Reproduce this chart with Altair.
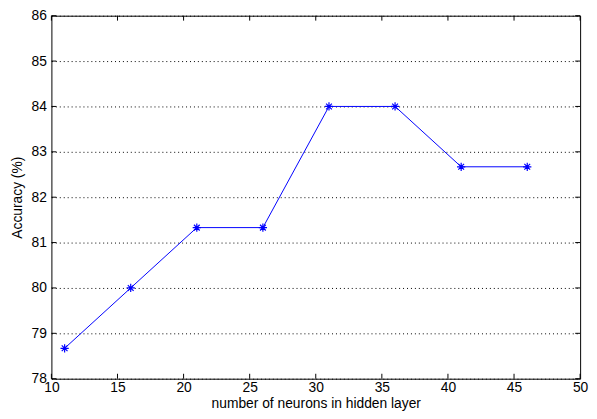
import altair as alt
import pandas as pd

neurons = [11, 16, 21, 26, 31, 36, 41, 46]
accuracy = [78.67, 80.0, 81.33, 81.33, 84.0, 84.0, 82.67, 82.67]
x_ticks = [10, 15, 20, 25, 30, 35, 40, 45, 50]
y_ticks = [78, 79, 80, 81, 82, 83, 84, 85, 86]

W, H = 536, 368
TL = 5
FONT = "Liberation Sans"
FS = 14

df = pd.DataFrame({"n": neurons, "acc": accuracy})
xt = pd.DataFrame({"n": x_ticks})
yt = pd.DataFrame({"acc": y_ticks})

xs = alt.Scale(domain=[10, 50], nice=False, zero=False)
ys = alt.Scale(domain=[78, 86], nice=False, zero=False)

xaxis = alt.Axis(values=x_ticks, ticks=False, grid=False, domain=False,
                 labelFont=FONT, labelFontSize=FS, labelColor="black", labelPadding=2,
                 title="number of neurons in hidden layer", titleFont=FONT,
                 titleFontSize=FS, titleFontWeight="normal", titleColor="black",
                 titlePadding=2, labelFlush=False)
yaxis = alt.Axis(values=y_ticks, ticks=False, grid=True, gridDash=[1, 3],
                 gridColor="black", gridOpacity=1, gridWidth=1, domain=False,
                 labelFont=FONT, labelFontSize=FS, labelColor="black", labelPadding=5,
                 title="Accuracy (%)", titleFont=FONT, titleFontSize=FS,
                 titleFontWeight="normal", titleColor="black", titlePadding=7,
                 labelFlush=False)

X = alt.X("n:Q", scale=xs, axis=xaxis)
Y = alt.Y("acc:Q", scale=ys, axis=yaxis)

line = alt.Chart(df).mark_line(color="#0000ff", strokeWidth=1).encode(x=X, y=Y)

star = "M-1,0L1,0M0,-1L0,1M-0.7,-0.7L0.7,0.7M-0.7,0.7L0.7,-0.7"
pts = alt.Chart(df).mark_point(shape=star, filled=False, color="#0000ff",
                               strokeWidth=1.2, size=70, opacity=1).encode(x=X, y=Y)

xb = alt.Chart(xt).mark_rule(color="black", strokeWidth=1).encode(
    x=X, y=alt.value(H), y2=alt.value(H - TL))
xtop = alt.Chart(xt).mark_rule(color="black", strokeWidth=1).encode(
    x=X, y=alt.value(0), y2=alt.value(TL))
yl = alt.Chart(yt).mark_rule(color="black", strokeWidth=1).encode(
    y=Y, x=alt.value(0), x2=alt.value(TL))
yr = alt.Chart(yt).mark_rule(color="black", strokeWidth=1).encode(
    y=Y, x=alt.value(W - TL), x2=alt.value(W))

chart = alt.layer(line, pts, xb, xtop, yl, yr).properties(
    width=W, height=H,
    autosize=alt.AutoSizeParams(type="none"),
    padding={"left": 44, "top": 5, "right": 9, "bottom": 34},
    background="white",
).configure_view(stroke="black", strokeWidth=1)

chart.save("out.html", embed_options={"renderer": "svg", "actions": False})
